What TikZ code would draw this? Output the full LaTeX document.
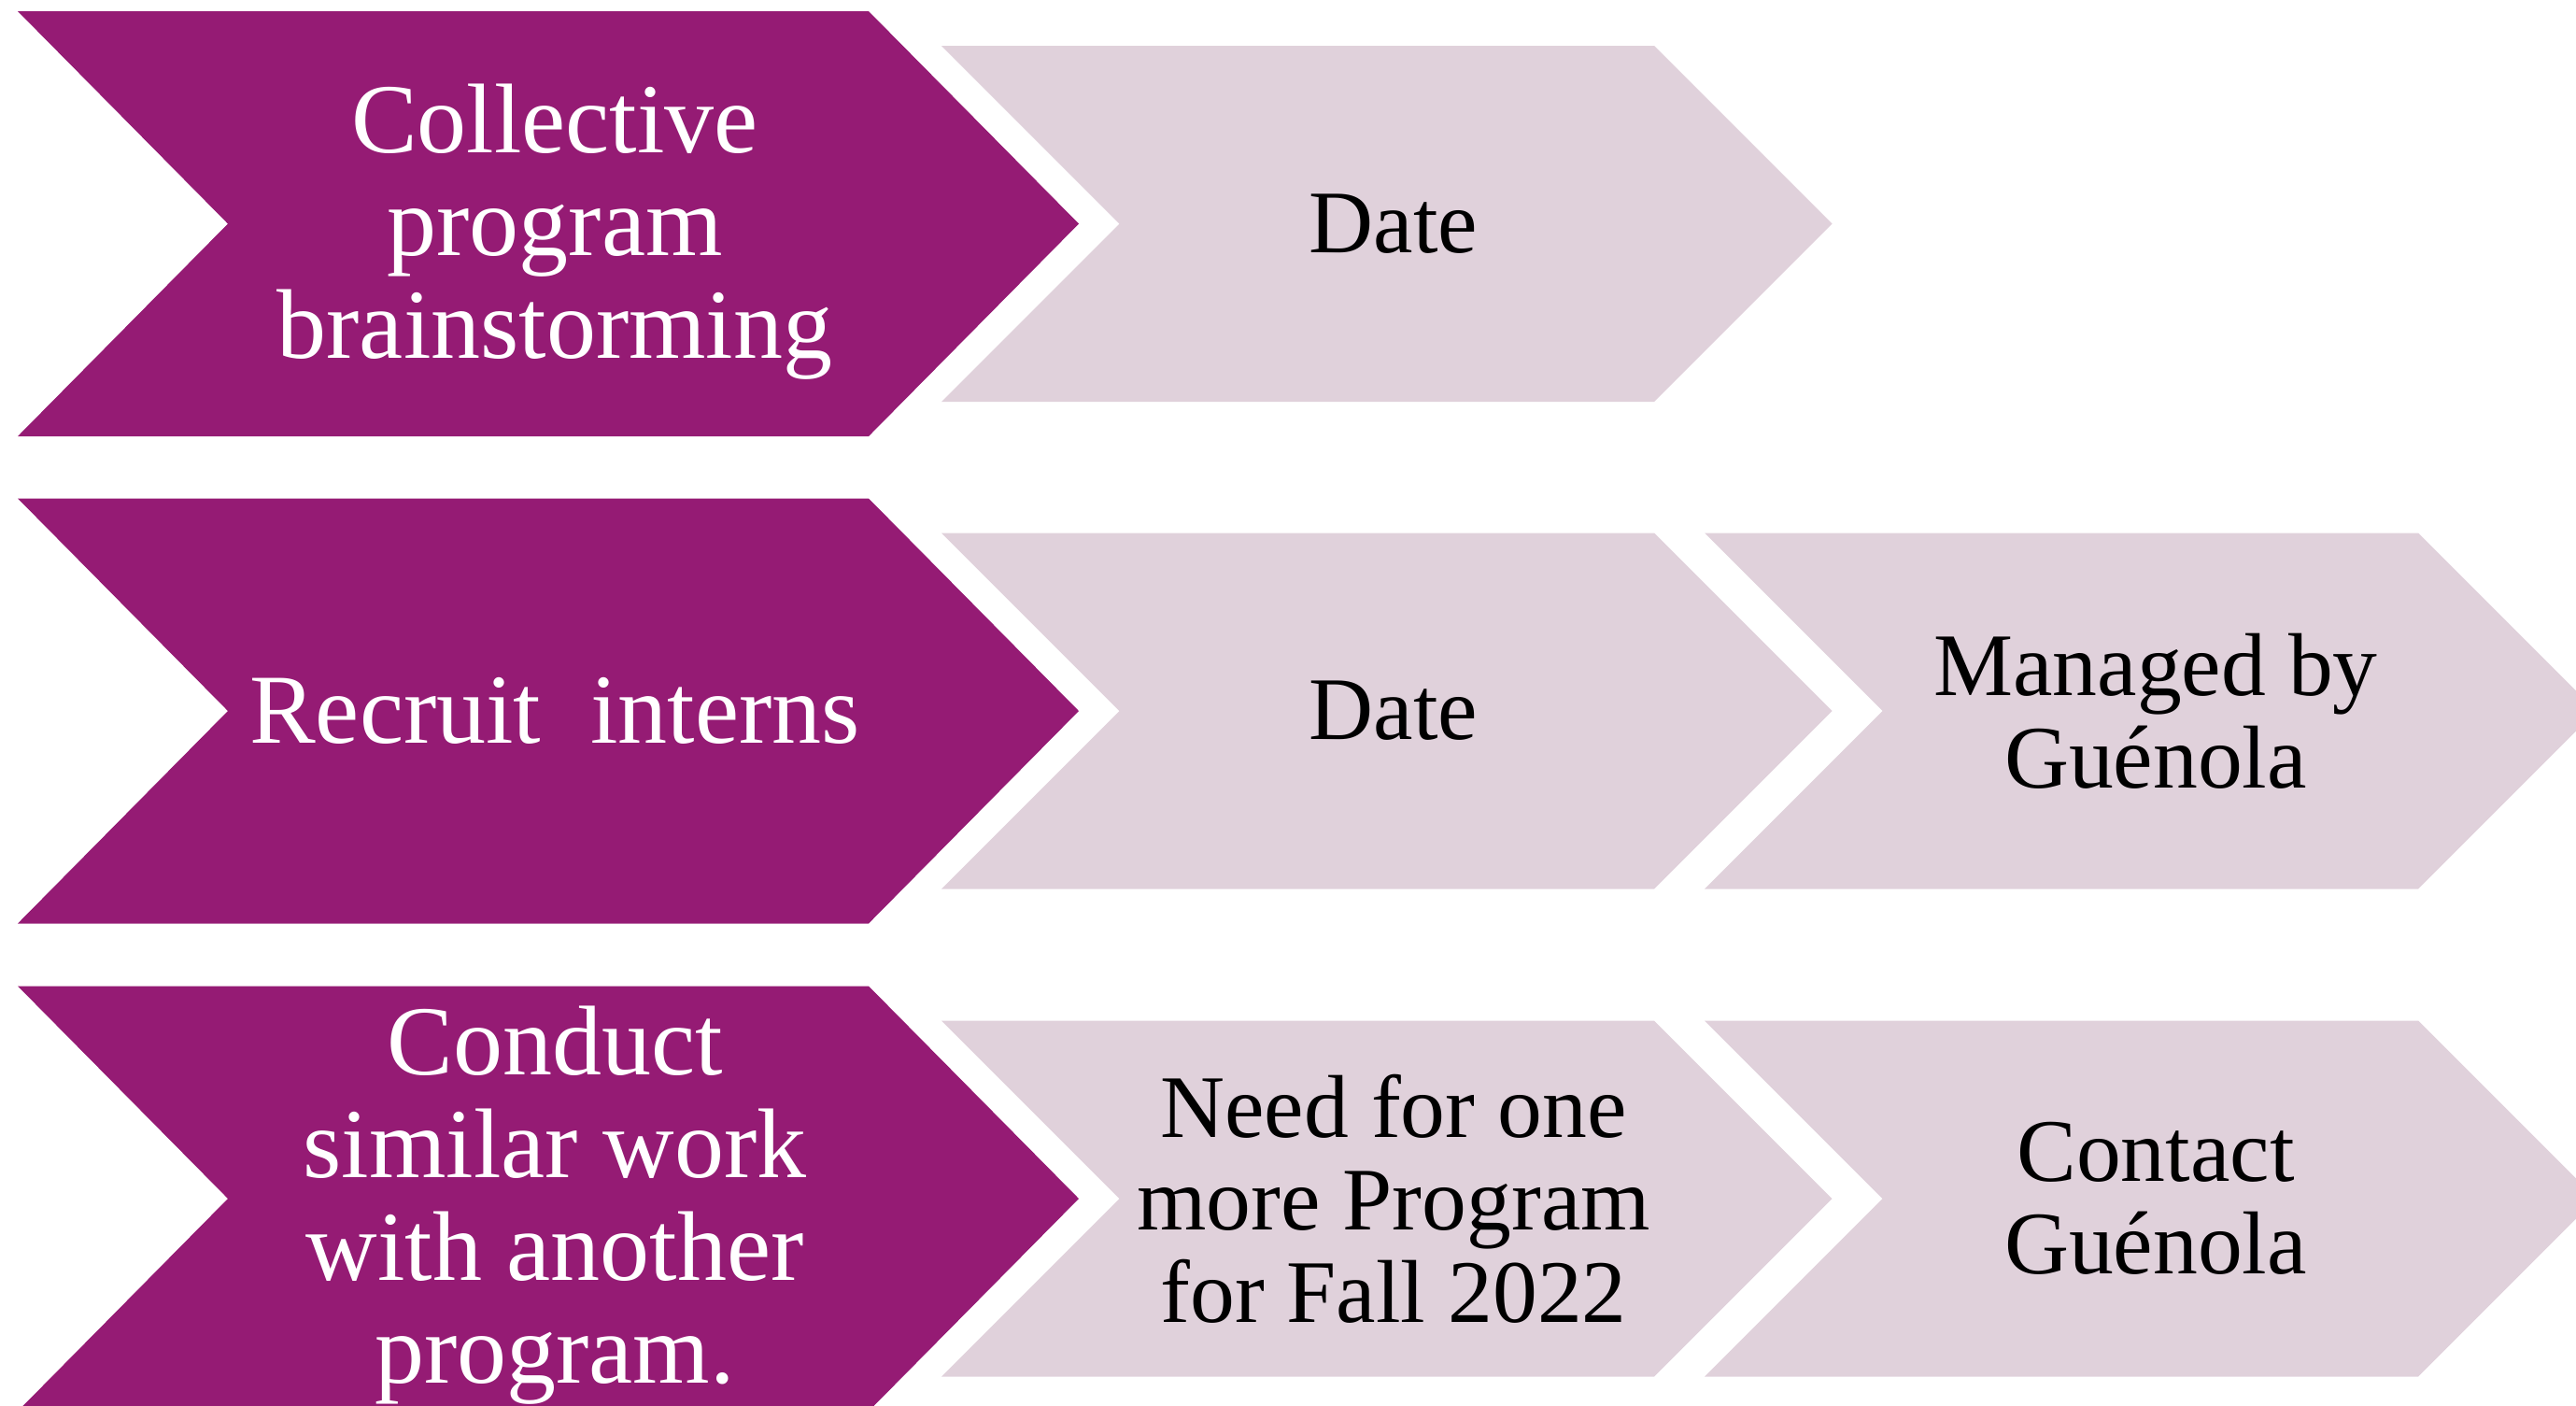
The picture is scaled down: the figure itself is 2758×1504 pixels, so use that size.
\documentclass[tikz,border=0pt]{standalone}
\usepackage{fontspec}
\setmainfont{Liberation Serif}
\definecolor{darkpurple}{RGB}{149,27,116}
\definecolor{lightmauve}{RGB}{224,209,219}
\tikzset{
  darkchev/.style={fill=darkpurple},
  lightchev/.style={fill=lightmauve},
  darktext/.style={text=white, align=center, inner sep=0pt, font=\fontsize{26.5}{27.5}\selectfont},
  lighttext/.style={text=black, align=center, inner sep=0pt, font=\fontsize{23.9}{24.75}\selectfont},
}
% style, left x, top-right x, point depth, centre y, half height
\newcommand\mychev[6]{%
  \fill[#1] (#2,#5-#6) -- (#3,#5-#6) -- (#3+#4,#5) -- (#3,#5+#6) -- (#2,#5+#6) -- (#2+#4,#5) -- cycle;}
\begin{document}
\begin{tikzpicture}[x=0.25pt,y=-0.25pt]
\useasboundingbox (0,0) rectangle (2758,1504);
\clip (0,0) rectangle (2758,1504);
% row 1
\mychev{darkchev}{19}{930}{225}{239.5}{227.5}
\mychev{lightchev}{1008}{1771}{190.5}{239.5}{190.5}
\node[darktext] (r1a) at (594,248.5) {Collective\\program\\brainstorming};
\node[lighttext] (r1b) at (1492,239.5) {Date};
% row 2
\mychev{darkchev}{19}{930}{225}{761}{227.5}
\mychev{lightchev}{1008}{1771}{190.5}{761}{190.5}
\mychev{lightchev}{1825}{2589}{190.5}{761}{190.5}
\node[darktext] (r2a) at (594,761) {Recruit\ \ interns};
\node[lighttext] (r2b) at (1492,761) {Date};
\node[lighttext] (r2c) at (2308,761) {Managed by\\Guénola};
% row 3
\mychev{darkchev}{19}{930}{225}{1283}{227.5}
\mychev{lightchev}{1008}{1771}{190.5}{1283}{190.5}
\mychev{lightchev}{1825}{2589}{190.5}{1283}{190.5}
\node[darktext] (r3a) at (594,1290) {Conduct\\similar work\\with another\\program.};
\node[lighttext] (r3b) at (1492,1283) {Need for one\\more Program\\for Fall 2022};
\node[lighttext] (r3c) at (2308,1283) {Contact\\Guénola};
\end{tikzpicture}
\end{document}
